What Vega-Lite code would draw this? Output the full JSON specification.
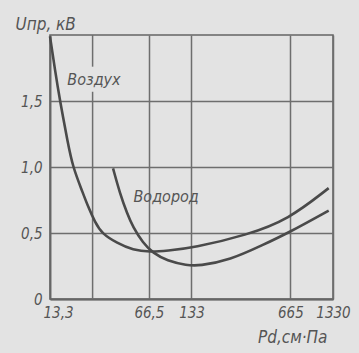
{
  "$schema": "https://vega.github.io/schema/vega-lite/v6.json",
  "width": 283,
  "height": 264,
  "autosize": {"type": "none"},
  "padding": {"left": 50, "top": 35, "right": 26, "bottom": 54},
  "background": "#e3e3e3",
  "config": {
    "view": {"stroke": "#666666", "strokeWidth": 1.6},
    "font": "DejaVu Sans Condensed"
  },
  "datasets": {
    "curves": [
      {"gas": "Воздух", "pd": 13.3, "u": 1.99},
      {"gas": "Воздух", "pd": 14.4, "u": 1.74},
      {"gas": "Воздух", "pd": 15.65, "u": 1.5},
      {"gas": "Воздух", "pd": 17.8, "u": 1.18},
      {"gas": "Воздух", "pd": 19.3, "u": 1.0},
      {"gas": "Воздух", "pd": 22.4, "u": 0.82},
      {"gas": "Воздух", "pd": 24.7, "u": 0.7},
      {"gas": "Воздух", "pd": 27.7, "u": 0.58},
      {"gas": "Воздух", "pd": 31.0, "u": 0.495},
      {"gas": "Воздух", "pd": 39.6, "u": 0.424},
      {"gas": "Воздух", "pd": 51.3, "u": 0.37},
      {"gas": "Воздух", "pd": 67.7, "u": 0.356},
      {"gas": "Воздух", "pd": 89.2, "u": 0.365},
      {"gas": "Воздух", "pd": 136, "u": 0.386},
      {"gas": "Воздух", "pd": 328, "u": 0.485},
      {"gas": "Воздух", "pd": 640, "u": 0.6},
      {"gas": "Воздух", "pd": 1240, "u": 0.84},
      {"gas": "Водород", "pd": 37.1, "u": 0.99},
      {"gas": "Водород", "pd": 41.5, "u": 0.8},
      {"gas": "Водород", "pd": 46.6, "u": 0.65},
      {"gas": "Водород", "pd": 51.3, "u": 0.545},
      {"gas": "Водород", "pd": 60.4, "u": 0.424},
      {"gas": "Водород", "pd": 71.1, "u": 0.348},
      {"gas": "Водород", "pd": 89.2, "u": 0.29},
      {"gas": "Водород", "pd": 123.6, "u": 0.255},
      {"gas": "Водород", "pd": 150, "u": 0.25},
      {"gas": "Водород", "pd": 249, "u": 0.295},
      {"gas": "Водород", "pd": 426, "u": 0.41},
      {"gas": "Водород", "pd": 640, "u": 0.5},
      {"gas": "Водород", "pd": 1240, "u": 0.67}
    ],
    "grid": [
      {"pd": 26.6, "u1": 1.76, "u2": 2.0},
      {"pd": 26.6, "u1": 0, "u2": 1.57}
    ],
    "labels": [
      {"name": "Воздух", "pd": 27.2, "u": 1.66},
      {"name": "Водород", "pd": 88, "u": 0.77}
    ]
  },
  "layer": [
    {
      "data": {"name": "grid"},
      "mark": {"type": "rule", "color": "#6e6e6e", "strokeWidth": 1.5},
      "encoding": {
        "x": {"field": "pd", "type": "quantitative", "scale": {"type": "log", "domain": [13.3, 1330]}},
        "y": {"field": "u1", "type": "quantitative", "scale": {"domain": [0, 2]}},
        "y2": {"field": "u2"}
      }
    },
    {
      "data": {"name": "curves"},
      "mark": {"type": "line", "interpolate": "basis", "color": "#4a4a4a", "strokeWidth": 2.6},
      "encoding": {
        "detail": {"field": "gas"},
        "x": {
          "field": "pd", "type": "quantitative",
          "scale": {"type": "log", "domain": [13.3, 1330]},
          "axis": {
            "values": [13.3, 66.5, 133, 665, 1330],
            "title": "Pd,см·Па",
            "titleFont": "DejaVu Sans Condensed",
            "titleFontStyle": "italic",
            "titleFontWeight": "normal",
            "titleFontSize": 17,
            "titleColor": "#555555",
            "titleAnchor": "end",
            "titleAlign": "right",
            "titleBaseline": "alphabetic",
            "titleX": 277,
            "titleY": 43,
            "labelExpr": "datum.value == 13.3 ? '13,3' : datum.value == 66.5 ? '66,5' : format(datum.value, 'd')",
            "labelFont": "DejaVu Sans Condensed",
            "labelFontStyle": "italic",
            "labelFontSize": 15,
            "labelColor": "#555555",
            "labelPadding": 6,
            "labelOffset": {"condition": {"test": "datum.value < 20", "value": 8}, "value": 0},
            "labelFlush": false,
            "labelOverlap": false,
            "ticks": false,
            "domainColor": "#666666",
            "domainWidth": 2,
            "grid": true,
            "gridColor": "#6e6e6e",
            "gridWidth": 1.5,
            "gridOpacity": 1
          }
        },
        "y": {
          "field": "u", "type": "quantitative",
          "scale": {"domain": [0, 2]},
          "axis": {
            "values": [0, 0.5, 1, 1.5],
            "labelExpr": "datum.value == 0 ? '0' : replace(format(datum.value, '.1f'), '.', ',')",
            "labelFont": "DejaVu Sans Condensed",
            "labelFontStyle": "italic",
            "labelFontSize": 15,
            "labelColor": "#555555",
            "labelPadding": 8,
            "ticks": false,
            "domainColor": "#666666",
            "domainWidth": 1.6,
            "grid": true,
            "gridColor": "#6e6e6e",
            "gridWidth": 1.5,
            "gridOpacity": 1,
            "title": "Uпр, кВ",
            "titleAngle": 0,
            "titleFont": "DejaVu Sans Condensed",
            "titleFontStyle": "italic",
            "titleFontWeight": "normal",
            "titleFontSize": 17,
            "titleColor": "#555555",
            "titleAlign": "left",
            "titleBaseline": "alphabetic",
            "titleX": -35,
            "titleY": -6
          }
        }
      }
    },
    {
      "data": {"name": "labels"},
      "mark": {"type": "text", "font": "DejaVu Sans Condensed", "fontStyle": "italic", "fontSize": 16, "color": "#555555", "align": "center", "baseline": "middle"},
      "encoding": {
        "x": {"field": "pd", "type": "quantitative", "scale": {"type": "log", "domain": [13.3, 1330]}},
        "y": {"field": "u", "type": "quantitative", "scale": {"domain": [0, 2]}},
        "text": {"field": "name"}
      }
    }
  ]
}
